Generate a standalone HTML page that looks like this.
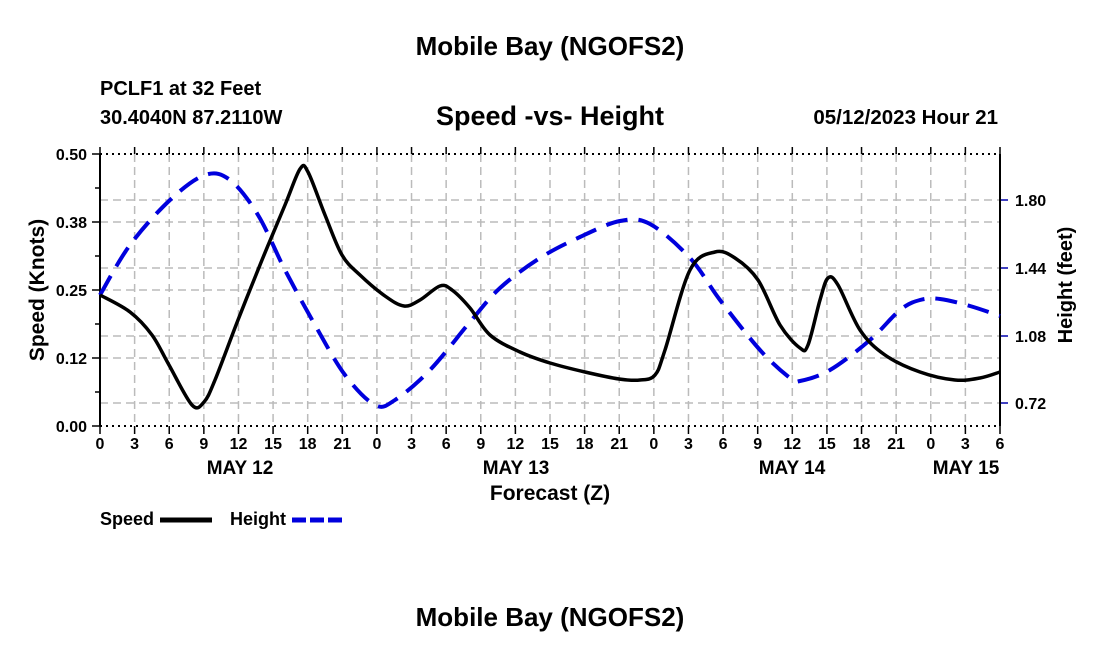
<!DOCTYPE html>
<html><head><meta charset="utf-8"><style>
body{margin:0;background:#fff;}
svg{display:block;font-family:"Liberation Sans",Arial,sans-serif;font-weight:bold;}
</style></head><body>
<svg id="s" width="1100" height="650" viewBox="0 0 1100 650">
<rect width="1100" height="650" fill="#fff"/>
<text x="550" y="55" font-size="26" text-anchor="middle">Mobile Bay (NGOFS2)</text>
<text x="100" y="95" font-size="20">PCLF1 at 32 Feet</text>
<text x="100" y="124" font-size="20">30.4040N  87.2110W</text>
<text x="550" y="125" font-size="27" text-anchor="middle">Speed -vs- Height</text>
<text x="998" y="124" font-size="20.5" text-anchor="end">05/12/2023 Hour 21</text>
<g id="grid" stroke="#bbb" stroke-width="1.5" stroke-dasharray="8,5"></g>
<g id="ticks" stroke="#000" stroke-width="1.5"></g>
<line x1="100" y1="154" x2="1000" y2="154" stroke="#000" stroke-width="2" stroke-dasharray="2,4"/>
<line x1="100" y1="426" x2="1000" y2="426" stroke="#000" stroke-width="2" stroke-dasharray="2,4"/>
<line x1="100" y1="154" x2="100" y2="426" stroke="#000" stroke-width="2"/>
<line x1="1000" y1="154" x2="1000" y2="426" stroke="#000" stroke-width="2"/>
<path id="blue" fill="none" stroke="#0000dd" stroke-width="4" stroke-dasharray="22,11"/>
<path id="black" fill="none" stroke="#000" stroke-width="3.5"/>
<g id="labels" font-size="16"></g>
<text x="240" y="474" font-size="19" text-anchor="middle">MAY 12</text>
<text x="516" y="474" font-size="19" text-anchor="middle">MAY 13</text>
<text x="792" y="474" font-size="19" text-anchor="middle">MAY 14</text>
<text x="966" y="474" font-size="19" text-anchor="middle">MAY 15</text>
<text x="550" y="500" font-size="21" text-anchor="middle">Forecast (Z)</text>
<text transform="translate(44,290) rotate(-90)" font-size="21" text-anchor="middle">Speed (Knots)</text>
<text transform="translate(1072,285) rotate(-90)" font-size="20" text-anchor="middle">Height (feet)</text>
<text x="100" y="525" font-size="18">Speed</text>
<line x1="160" y1="520" x2="212" y2="520" stroke="#000" stroke-width="5"/>
<text x="230" y="525" font-size="18">Height</text>
<line x1="292" y1="520" x2="342" y2="520" stroke="#0000dd" stroke-width="5" stroke-dasharray="14,4"/>
<text x="550" y="626" font-size="26" text-anchor="middle">Mobile Bay (NGOFS2)</text>
</svg>
<script>
var NS="http://www.w3.org/2000/svg";
function el(p,t,a,txt){var e=document.createElementNS(NS,t);for(var k in a)e.setAttribute(k,a[k]);if(txt!==undefined)e.textContent=txt;document.getElementById(p).appendChild(e);}
var hy=[200,222,268,290,336,358,403];
hy.forEach(function(y){el("grid","line",{x1:100,x2:1000,y1:y,y2:y});});
var labs=[0,3,6,9,12,15,18,21];
for(var i=0;i<=26;i++){var x=100+i*900/26;
 if(i>0&&i<26)el("grid","line",{x1:x,x2:x,y1:154,y2:426});
 el("ticks","line",{x1:x,x2:x,y1:426,y2:434});el("ticks","line",{x1:x,x2:x,y1:154,y2:147});
 el("labels","text",{x:x,y:449,"text-anchor":"middle"},labs[i%8]);}
[[154,"0.50"],[222,"0.38"],[290,"0.25"],[358,"0.12"],[426,"0.00"]].forEach(function(a){
 el("ticks","line",{x1:92,x2:100,y1:a[0],y2:a[0]});el("labels","text",{x:87,y:a[0]+6,"text-anchor":"end"},a[1]);});
[188,256,324,392].forEach(function(y){el("ticks","line",{x1:95,x2:100,y1:y,y2:y});});
[[200,"1.80"],[268,"1.44"],[336,"1.08"],[403,"0.72"]].forEach(function(a){
 el("ticks","line",{x1:1000,x2:1008,y1:a[0],y2:a[0],stroke:"#00a"});el("labels","text",{x:1015,y:a[0]+6},a[1]);});
function cr(p){var d="M"+p[0][0]+","+p[0][1];for(var i=0;i<p.length-1;i++){var p0=p[i-1]||p[i],p1=p[i],p2=p[i+1],p3=p[i+2]||p2;
 d+=" C"+(p1[0]+(p2[0]-p0[0])/6)+","+(p1[1]+(p2[1]-p0[1])/6)+" "+(p2[0]-(p3[0]-p1[0])/6)+","+(p2[1]-(p3[1]-p1[1])/6)+" "+p2[0]+","+p2[1];}return d;}
var bk=[[100,295],[130,312],[152,335],[169,365],[192,405],[204,402],[215,380],[238,320],[262,260],[285,205],[300,169],[308,172],[325,215],[342,255],[360,275],[385,296],[404,306],[420,300],[440,286],[452,290],[470,308],[490,335],[520,352],[550,363],[585,372],[619,379],[640,380],[655,375],[665,350],[690,270],[715,252],[735,258],[758,280],[780,325],[800,348],[808,345],[820,300],[828,278],[838,285],[860,330],[885,355],[920,372],[955,380],[980,378],[1000,372]];
var bl=[[100,295],[130,245],[170,200],[205,175],[230,180],[258,215],[285,270],[315,325],[345,375],[375,405],[395,400],[430,370],[470,322],[500,288],[540,258],[580,237],[620,221],[650,224],[690,258],[720,300],[760,350],[790,378],[800,381],[830,370],[870,340],[900,310],[920,300],[940,299],[970,306],[1000,316]];
document.getElementById("black").setAttribute("d",cr(bk));
document.getElementById("blue").setAttribute("d",cr(bl));
</script>
</body></html>
